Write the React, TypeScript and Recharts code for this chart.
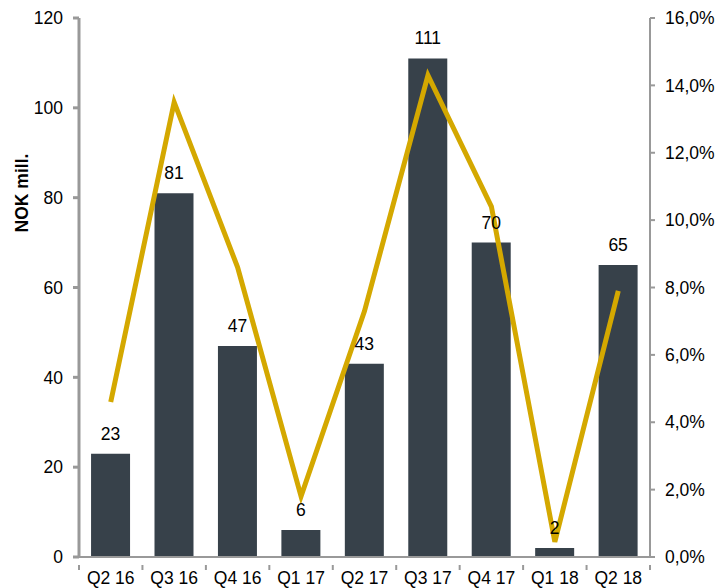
import React from 'react'
import {
  ComposedChart,
  Bar,
  Line,
  XAxis,
  YAxis,
  LabelList,
} from 'recharts'

const quarters = ['Q2 16', 'Q3 16', 'Q4 16', 'Q1 17', 'Q2 17', 'Q3 17', 'Q4 17', 'Q1 18', 'Q2 18']
const nokMill = [23, 81, 47, 6, 43, 111, 70, 2, 65]
const marginPct = [4.6, 13.5, 8.6, 1.8, 7.3, 14.3, 10.4, 0.45, 7.9]
const leftTicks = [0, 20, 40, 60, 80, 100, 120]
const rightTicks = [0, 2, 4, 6, 8, 10, 12, 14, 16]

const data = quarters.map((q, i) => ({ q, value: nokMill[i], pct: marginPct[i] }))

const AXIS = '#999999'
const BAR = '#37414a'
const GOLD = '#d4a800'
const FONT = '"Liberation Sans", Arial, sans-serif'
const FS = 17.5

const PLOT_LEFT = 79
const PLOT_RIGHT = 650
const band = (PLOT_RIGHT - PLOT_LEFT) / quarters.length

const QuarterTick = (props: any) => {
  const { x, y, payload, index } = props
  const left = x - band / 2
  return (
    <g>
      <line x1={left} y1={y} x2={left} y2={y + 5} stroke={AXIS} strokeWidth={2} />
      {index === quarters.length - 1 && (
        <line x1={left + band} y1={y} x2={left + band} y2={y + 5} stroke={AXIS} strokeWidth={2} />
      )}
      <text x={x} y={y + 19} textAnchor="middle" fontSize={FS} fontFamily={FONT} fill="#000">
        {payload.value}
      </text>
    </g>
  )
}

const NokLabel = () => (
  <text
    x={28}
    y={193}
    transform="rotate(-90 28 193)"
    textAnchor="middle"
    fontSize={17.5}
    fontWeight="bold"
    fontFamily={FONT}
    fill="#000"
  >
    NOK mill.
  </text>
)

export default function App() {
  return (
    <div style={{ position: 'absolute', left: 0, top: 0, background: '#fff' }}>
      <ComposedChart
        width={724}
        height={588}
        data={data}
        margin={{ top: 18, right: 0, bottom: 0, left: 0 }}
        barCategoryGap="19%"
      >
        <XAxis
          dataKey="q"
          stroke={AXIS}
          strokeWidth={2}
          tickLine={false}
          height={31}
          interval={0}
          tick={<QuarterTick />}
        />
        <YAxis
          yAxisId="left"
          domain={[0, 120]}
          ticks={leftTicks}
          width={79}
          stroke={AXIS}
          strokeWidth={3}
          tickSize={6}
          tickMargin={10}
          tick={{ fill: '#000', fontSize: FS, fontFamily: FONT }}
          label={<NokLabel />}
        />
        <YAxis
          yAxisId="right"
          orientation="right"
          domain={[0, 16]}
          ticks={rightTicks}
          width={74}
          stroke={AXIS}
          strokeWidth={2}
          tickSize={5}
          tickMargin={10}
          tickFormatter={(v: number) => v.toFixed(1).replace('.', ',') + '%'}
          tick={{ fill: '#000', fontSize: FS, fontFamily: FONT }}
        />
        <Bar yAxisId="left" dataKey="value" fill={BAR} isAnimationActive={false}>
          <LabelList
            dataKey="value"
            position="top"
            offset={14}
            fill="#000"
            fontSize={FS}
            fontFamily={FONT}
          />
        </Bar>
        <Line
          yAxisId="right"
          dataKey="pct"
          type="linear"
          stroke={GOLD}
          strokeWidth={5}
          dot={false}
          activeDot={false}
          isAnimationActive={false}
        />
      </ComposedChart>
    </div>
  )
}
